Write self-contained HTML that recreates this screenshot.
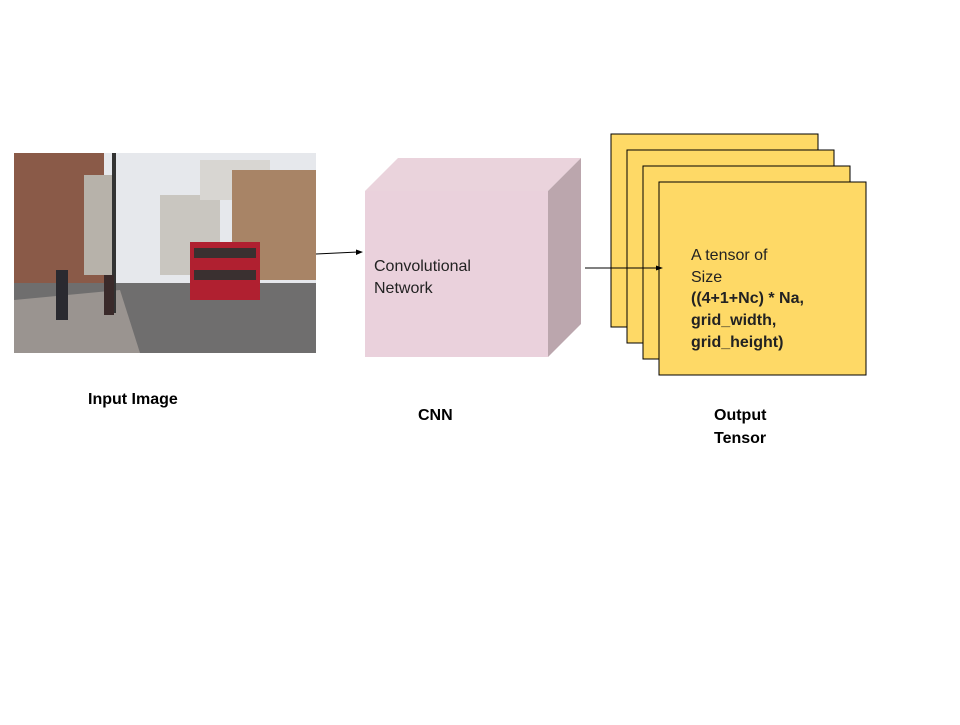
<!DOCTYPE html>
<html><head><meta charset="utf-8"><style>
body{margin:0;background:#fff;width:960px;height:720px;overflow:hidden;font-family:"Liberation Sans",Arial,sans-serif}
</style></head><body>
<svg width="960" height="720" viewBox="0 0 960 720">
<g>
  <rect x="14" y="153" width="302" height="200" fill="#e6e8ec"/>
  <rect x="14" y="153" width="90" height="150" fill="#8a5a48"/>
  <rect x="84" y="175" width="28" height="100" fill="#b7b2aa"/>
  <rect x="160" y="195" width="60" height="80" fill="#c9c6c0"/>
  <rect x="200" y="160" width="70" height="40" fill="#d8d6d2"/>
  <rect x="232" y="170" width="84" height="110" fill="#a88466"/>
  <rect x="14" y="283" width="302" height="70" fill="#6f6e6e"/>
  <polygon points="14,300 120,290 140,353 14,353" fill="#9a9490"/>
  <rect x="190" y="242" width="70" height="58" fill="#b02030"/>
  <rect x="194" y="248" width="62" height="10" fill="#3a3030"/>
  <rect x="194" y="270" width="62" height="10" fill="#3a3030"/>
  <rect x="112" y="153" width="4" height="160" fill="#333"/>
  <rect x="56" y="270" width="12" height="50" fill="#2a2a30"/>
  <rect x="104" y="275" width="10" height="40" fill="#3a2a2a"/>
</g>
<line x1="316" y1="254" x2="358" y2="252" stroke="#000" stroke-width="1"/>
<polygon points="363,252 356,249.5 356,255" fill="#000"/>
<g>
  <polygon points="365,191 398,158 581,158 548,191" fill="#ead3dc"/>
  <polygon points="548,191 581,158 581,324 548,357" fill="#bba6ad"/>
  <rect x="365" y="191" width="183" height="166" fill="#ead1dc"/>
  <text x="374" y="271" font-size="16" fill="#222">Convolutional</text>
  <text x="374" y="293" font-size="16" fill="#222">Network</text>
</g>
<g>
  <rect x="611" y="134" width="207" height="193" fill="#fed966" stroke="#000" stroke-width="1"/>
  <rect x="627" y="150" width="207" height="193" fill="#fed966" stroke="#000" stroke-width="1"/>
  <rect x="643" y="166" width="207" height="193" fill="#fed966" stroke="#000" stroke-width="1"/>
  <rect x="659" y="182" width="207" height="193" fill="#fed966" stroke="#000" stroke-width="1"/>
  <text x="691" y="260" font-size="16" fill="#222">A tensor of</text>
  <text x="691" y="282" font-size="16" fill="#222">Size</text>
  <text x="691" y="303" font-size="16" font-weight="bold" fill="#222">((4+1+Nc) * Na,</text>
  <text x="691" y="325" font-size="16" font-weight="bold" fill="#222">grid_width,</text>
  <text x="691" y="347" font-size="16" font-weight="bold" fill="#222">grid_height)</text>
</g>
<line x1="585" y1="268" x2="657" y2="268" stroke="#000" stroke-width="1"/>
<polygon points="663,268 656,265.5 656,270.5" fill="#000"/>
<text x="88" y="404" font-size="16" font-weight="bold">Input Image</text>
<text x="418" y="420" font-size="16" font-weight="bold">CNN</text>
<text x="714" y="420" font-size="16" font-weight="bold">Output</text>
<text x="714" y="443" font-size="16" font-weight="bold">Tensor</text>
</svg>
</body></html>
